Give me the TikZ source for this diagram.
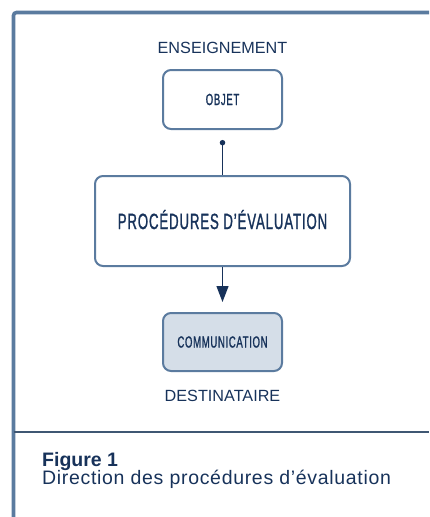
\documentclass[tikz,border=0pt]{standalone}
\usepackage{fontspec}
\setmainfont{Liberation Sans}
\newfontfamily\condfont[FakeStretch=0.6, FakeBold=1.1, LetterSpace=4]{Liberation Sans}
\usetikzlibrary{arrows.meta}
\definecolor{frameblue}{HTML}{5B7B9F}
\definecolor{navy}{HTML}{17325A}
\definecolor{boxfill}{HTML}{D5DEE8}
\definecolor{sepline}{HTML}{3F5773}
\tikzset{
  flowbox/.style={draw=frameblue, line width=2pt, rounded corners=8pt, fill=white, text=navy, inner sep=0pt},
  lbl/.style={text=navy, inner sep=0pt, font=\fontsize{16.2}{17}\selectfont},
  conn/.style={draw=navy, line width=1.3pt}
}
\begin{document}
\begin{tikzpicture}[x=1pt,y=-1pt]
\useasboundingbox (0,0) rectangle (429,517);
\draw[frameblue, line width=3.6pt, rounded corners=3pt] (13.5,517) -- (13.5,12.5) -- (429,12.5);
\draw[sepline, line width=1.3pt] (13.5,432) -- (429,432);

\node[lbl] (ens) at (222.5,47.5) {ENSEIGNEMENT};
\node[flowbox, minimum width=119, minimum height=59] (objet) at (222.5,99.5)
  {\condfont\fontsize{16}{17}\selectfont OBJET};
\node[flowbox, minimum width=255, minimum height=90, text height=16pt, text depth=0pt] (proc) at (222.5,221)
  {\condfont\fontsize{22}{24}\selectfont PROCÉDURES D’ÉVALUATION};
\node[flowbox, fill=boxfill, minimum width=119, minimum height=58] (comm) at (222.5,342)
  {\condfont\fontsize{16}{17}\selectfont COMMUNICATION};
\node[lbl] (dest) at (222.5,395.8) {DESTINATAIRE};

\draw[conn, {Circle[length=5.4pt]}-, shorten <=10pt] (objet.south) -- (proc.north);
\draw[conn, -{Triangle[length=16pt,width=12pt]}, shorten >=10pt] (proc.south) -- (comm.north);

\node[anchor=base west, inner sep=0pt, text=navy, font={\fontsize{19.5}{21}\selectfont\bfseries}] (fig) at (42,466.7) {Figure 1};
\node[anchor=base west, inner sep=0pt, text=navy, font={\fontsize{19.5}{21}\selectfont\addfontfeature{LetterSpace=3.5}}] (cap) at (42,484.3) {Direction des procédures d’évaluation};
\end{tikzpicture}
\end{document}
